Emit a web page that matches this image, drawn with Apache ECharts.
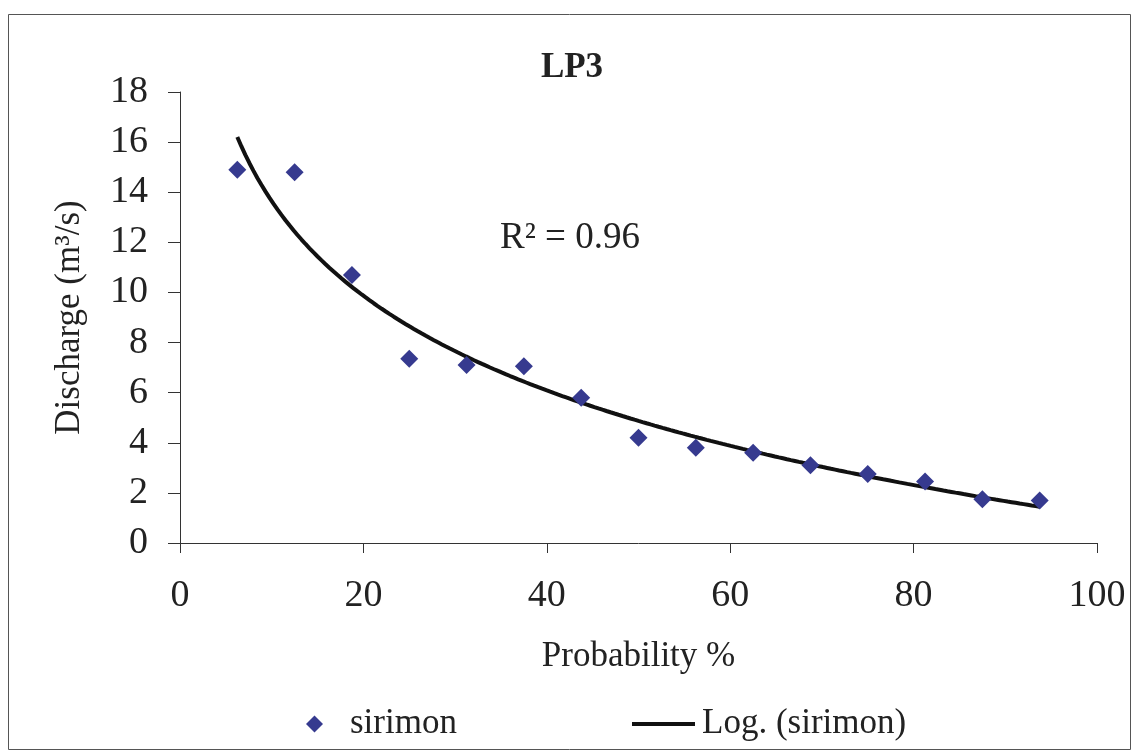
<!DOCTYPE html>
<html>
<head>
<meta charset="utf-8">
<script src="https://cdn.jsdelivr.net/npm/echarts@6/dist/echarts.min.js"></script>
<style>
html,body{margin:0;padding:0;background:#fff;}
#chart{width:1132px;height:753px;}
</style>
</head>
<body>
<div id="chart"></div>
<script>
// ---- data ----
const probability = [6.25, 12.5, 18.75, 25, 31.25, 37.5, 43.75, 50, 56.25, 62.5, 68.75, 75, 81.25, 87.5, 93.75];
const discharge   = [14.9, 14.8, 10.7, 7.35, 7.1, 7.05, 5.8, 4.2, 3.8, 3.6, 3.1, 2.75, 2.45, 1.75, 1.7];
const titleText = 'LP3';
const seriesName = 'sirimon';
const trendName = 'Log. (sirimon)';
const r2Text = 'R\u00B2 = 0.96';
const xAxisName = 'Probability %';
const yAxisName = 'Discharge (m\u00B3/s)';

// logarithmic least-squares trendline (as the spreadsheet computes it)
function logFit(xs, ys) {
  const lx = xs.map(Math.log);
  const n = xs.length;
  const mx = lx.reduce((a, b) => a + b, 0) / n;
  const my = ys.reduce((a, b) => a + b, 0) / n;
  let sxy = 0, sxx = 0;
  for (let i = 0; i < n; i++) { sxy += (lx[i] - mx) * (ys[i] - my); sxx += (lx[i] - mx) ** 2; }
  const a = sxy / sxx;
  return { a: a, b: my - a * mx };
}
const fit = logFit(probability, discharge);
const trend = [];
const x0 = probability[0], x1 = probability[probability.length - 1];
for (let i = 0; i <= 200; i++) {
  const x = x0 + (x1 - x0) * i / 200;
  trend.push([x, fit.a * Math.log(x) + fit.b]);
}

const FONT = 'Liberation Serif';
const TXT = '#222';
const chart = echarts.init(document.getElementById('chart'), null, { renderer: 'canvas' });
chart.setOption({
  backgroundColor: '#fff',
  animation: false,
  textStyle: { fontFamily: FONT, color: TXT },
  grid: { left: 180, right: 35, top: 92, bottom: 210, containLabel: false },
  xAxis: {
    type: 'value', min: 0, max: 100, interval: 20,
    name: xAxisName, nameLocation: 'middle', nameGap: 96,
    nameTextStyle: { fontFamily: FONT, fontSize: 35, color: TXT },
    axisLine: { show: true, lineStyle: { color: '#333', width: 1 } },
    axisTick: { show: true, length: 10, lineStyle: { color: '#333' } },
    axisLabel: { fontFamily: FONT, fontSize: 38, color: TXT, margin: 34 },
    splitLine: { show: false }
  },
  yAxis: {
    type: 'value', min: 0, max: 18, interval: 2,
    name: yAxisName, nameLocation: 'middle', nameGap: 93,
    nameTextStyle: { fontFamily: FONT, fontSize: 35, color: TXT },
    axisLine: { show: true, lineStyle: { color: '#333', width: 1 } },
    axisTick: { show: true, length: 12, lineStyle: { color: '#333' } },
    axisLabel: { fontFamily: FONT, fontSize: 38, color: TXT, margin: 32 },
    splitLine: { show: false }
  },
  legend: [
    {
      data: [seriesName], left: 301, top: 699, itemWidth: 17, itemHeight: 17,
      icon: 'diamond',
      itemStyle: { color: '#363a8f', opacity: 1 },
      textStyle: { fontFamily: FONT, fontSize: 35, color: TXT, padding: [0, 0, 0, 22], lineHeight: 40 }
    },
    {
      data: [trendName], left: 627, top: 699, itemWidth: 63, itemHeight: 4,
      icon: 'rect',
      textStyle: { fontFamily: FONT, fontSize: 35, color: TXT, padding: [0, 0, 0, 2], lineHeight: 40 }
    }
  ],
  graphic: [
    { type: 'rect', shape: { x: 8.5, y: 14.5, width: 1122, height: 735 },
      style: { fill: 'none', stroke: '#555', lineWidth: 1 }, silent: true, z: -1 },
    { type: 'text', x: 572, y: 68,
      style: { text: titleText, font: 'bold 35px "Liberation Serif"', fill: TXT, textAlign: 'center', textVerticalAlign: 'middle' } },
    { type: 'text', x: 570, y: 238,
      style: { text: r2Text, font: '37px "Liberation Serif"', fill: TXT, textAlign: 'center', textVerticalAlign: 'middle' } }
  ],
  series: [
    {
      name: seriesName, type: 'scatter', data: probability.map((x, i) => [x, discharge[i]]),
      symbol: 'diamond', symbolSize: 18,
      itemStyle: { color: '#363a8f', opacity: 1 }, z: 3
    },
    {
      name: trendName, type: 'line', data: trend, showSymbol: false, symbol: 'none',
      smooth: false, lineStyle: { color: '#111', width: 4 },
      itemStyle: { color: '#111' }, z: 2
    }
  ]
});
</script>
</body>
</html>
